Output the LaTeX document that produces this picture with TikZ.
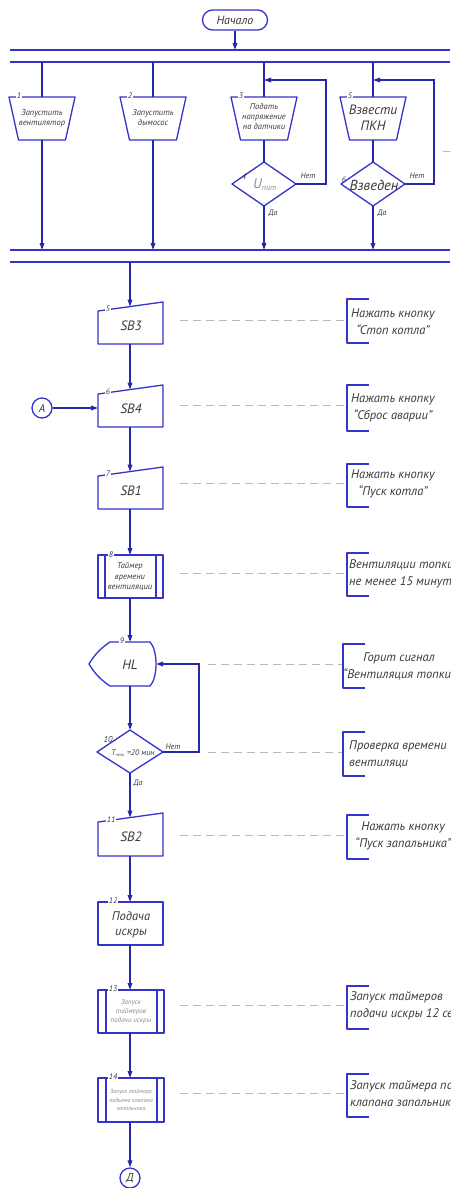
\documentclass[tikz,border=0pt]{standalone}
\usepackage{fontspec}
\setmainfont{PT Sans}
\usetikzlibrary{arrows.meta}
\definecolor{shapeblue}{HTML}{3434CC}
\definecolor{flowblue}{HTML}{2828A8}
\definecolor{tipnavy}{HTML}{1A1A78}
\definecolor{inkgray}{HTML}{3A3A3A}
\definecolor{paleink}{HTML}{8C8C8C}
\definecolor{dashgray}{HTML}{B8B8B8}
\tikzset{
  shp/.style={draw=shapeblue, line width=1.3pt, line join=round},
  flow/.style={draw=flowblue, line width=1.3pt},
  arr/.style={flow, -{Triangle[length=7pt,width=4.6pt,fill=tipnavy]}},
  dsh/.style={draw=dashgray, line width=1pt, dash pattern=on 8pt off 5pt},
  lbl/.style={text=inkgray, font=\itshape\fontsize{13.5}{15}\selectfont, align=center, inner sep=0pt},
  tiny/.style={lbl, font=\itshape\fontsize{8.5}{10}\selectfont},
  note/.style={lbl, font=\itshape\fontsize{12.5}{17}\selectfont},
  num/.style={text=inkgray, font=\itshape\fontsize{8}{8}\selectfont, fill=white, inner sep=0.6pt},
  yesno/.style={text=inkgray, font=\itshape\fontsize{8}{8}\selectfont, inner sep=0pt},
  startbox/.style={shp, rounded corners=10pt, minimum width=65pt, minimum height=20pt,
    text=inkgray, font=\itshape\fontsize{12}{13}\selectfont, inner sep=0pt},
  conn/.style={shp, circle, minimum size=20pt, inner sep=0pt, text=inkgray,
    font=\itshape\fontsize{11.5}{12}\selectfont},
}
\begin{document}
\begin{tikzpicture}[x=1pt,y=-1pt]
\clip (0,0) rectangle (450,1188);
\fill[white] (0,0) rectangle (450,1188);

% ---------- start and the upper parallel section ----------
\node[startbox] (start) at (235,20) {Начало};
\coordinate (busin) at (235,50);
\draw[shp] (10,50) -- (455,50);
\draw[shp] (10,62) -- (455,62);
\draw[arr] (start) -- (busin);

\foreach \x/\n in {42/1,153/2,264/3,373/5}{
  \coordinate (fork-\n) at (\x,62);
  \coordinate (pin-\n) at (\x,97);
  \coordinate (pout-\n) at (\x,140);
  \coordinate (join-\n) at (\x,250);
  \draw[shp] (\x-33,97) -- (\x+33,97) -- (\x+23.5,140) -- (\x-23.5,140) -- cycle;
  \node[num] (pnum-\n) at (\x-23,96) {\n};
  \draw[flow] (fork-\n) -- (pin-\n);
}
\node[tiny] (ptext1) at (42,118) {Запустить\\вентилятор};
\node[tiny] (ptext2) at (153,118) {Запустить\\дымосос};
\node[tiny] (ptext3) at (264,117) {Подать\\напряжение\\на датчики};
\node[lbl, font=\itshape\fontsize{13.5}{16}\selectfont] (ptext5) at (373,118) {Взвести\\ПКН};

\draw[arr] (pout-1) -- (join-1);
\draw[arr] (pout-2) -- (join-2);

% checks 4 and 6 with their retry loops
\foreach \x/\n/\k in {264/4/326,373/6/434}{
  \coordinate (dtop-\n) at (\x,162);
  \coordinate (dbot-\n) at (\x,206);
  \coordinate (dright-\n) at (\x+32,184);
  \coordinate (loop-\n) at (\k,80);
  \coordinate (merge-\n) at (\x,80);
  \draw[shp] (dtop-\n) -- (dright-\n) -- (dbot-\n) -- (\x-32,184) -- cycle;
  \draw[arr] (dright-\n) -| (loop-\n) -- (merge-\n);
  \node[yesno] (no-\n) at (\x+44,176) {Нет};
  \node[yesno] (yes-\n) at (\x+9,213) {Да};
}
\draw[flow] (pout-3) -- (dtop-4);
\draw[flow] (pout-5) -- (dtop-6);
\draw[arr] (dbot-4) -- (join-3);
\draw[arr] (dbot-6) -- (join-5);
\node[lbl, text=paleink, font=\itshape\fontsize{14}{16}\selectfont] (uval) at (265,185) {U\textsubscript{\fontsize{8}{8}\selectfont пит}};
\node[num, fill=none] (dnum4) at (244,177) {4};
\node[lbl, font=\itshape\fontsize{14.5}{16}\selectfont] (armed) at (374,185) {Взведен};
\node[num, fill=none] (dnum6) at (344,180) {6};
\draw[dsh] (443,151) -- (455,151);

\draw[shp] (10,250) -- (455,250);
\draw[shp] (10,262) -- (455,262);
\coordinate (busout) at (130,262);

% ---------- manual inputs SB3, SB4, SB1 ----------
\foreach \t/\n/\name in {302/5/SB3,385/6/SB4,467/7/SB1}{
  \draw[shp] (98,\t+9) -- (163,\t) -- (163,\t+42) -- (98,\t+42) -- cycle;
  \coordinate (\name-in) at (130,\t+4.6);
  \coordinate (\name-out) at (130,\t+42);
  \node[lbl] (\name) at (131,\t+24) {\name};
  \node[num] (\name-num) at (108,\t+6.5) {\n};
}

% predefined process 8
\draw[shp] (98,555) rectangle (163,598);
\draw[shp] (105,555) -- (105,598) (156,555) -- (156,598);
\coordinate (timer-in) at (130,555);
\coordinate (timer-out) at (130,598);
\node[lbl, font=\itshape\fontsize{8.5}{10.5}\selectfont] (timer) at (130,577) {Таймер\\времени\\вентиляции};
\node[num] (timer-num) at (111,555) {8};

% display HL
\draw[shp] (110,642) -- (150,642) .. controls (158,650) and (158,678) .. (150,686)
  -- (110,686) to[bend left=12] (89,664) to[bend left=12] cycle;
\coordinate (hl-in) at (130,642);
\coordinate (hl-out) at (130,686);
\coordinate (hl-right) at (156,664);
\node[lbl] (hl) at (130,665) {HL};
\node[num] (hl-num) at (122,641) {9};

% decision 10
\coordinate (d10-top) at (130,730);
\coordinate (d10-bot) at (130,773);
\coordinate (d10-right) at (163,752);
\coordinate (d10-loop) at (199,664);
\draw[shp] (d10-top) -- (d10-right) -- (d10-bot) -- (97,752) -- cycle;
\node[lbl, font=\itshape\fontsize{8}{9}\selectfont] (d10) at (133,753) {T\textsubscript{\fontsize{4.5}{5}\selectfont печи} =20 мин};
\node[num, fill=none, font=\itshape\fontsize{8.5}{9}\selectfont] (d10-num) at (108,740) {10};
\node[yesno] (no-10) at (173,747) {Нет};
\node[yesno] (yes-10) at (138,783) {Да};
\draw[arr] (d10-right) -| (d10-loop) -- (hl-right);

% manual input SB2
\draw[shp] (98,822) -- (163,813) -- (163,856) -- (98,856) -- cycle;
\coordinate (SB2-in) at (130,817.6);
\coordinate (SB2-out) at (130,856);
\node[lbl] (SB2) at (131,837) {SB2};
\node[num] (SB2-num) at (111,819.5) {11};

% process 12
\draw[shp] (98,902) rectangle (163,945);
\coordinate (spark-in) at (130,902);
\coordinate (spark-out) at (130,945);
\node[lbl, font=\itshape\fontsize{12.5}{15}\selectfont] (spark) at (131,925) {Подача\\искры};
\node[num] (spark-num) at (113,901) {12};

% predefined processes 13 and 14
\draw[shp] (98,990) rectangle (164,1033);
\draw[shp] (106,990) -- (106,1033) (157,990) -- (157,1033);
\coordinate (st-in) at (130,990);
\coordinate (st-out) at (130,1033);
\node[lbl, text=paleink, font=\itshape\fontsize{7}{9}\selectfont] (st) at (131,1012) {Запуск\\таймеров\\подачи искры};
\node[num] (st-num) at (113,989) {13};

\draw[shp] (98,1078) rectangle (164,1122);
\draw[shp] (106,1078) -- (106,1122) (157,1078) -- (157,1122);
\coordinate (vt-in) at (130,1078);
\coordinate (vt-out) at (130,1122);
\node[lbl, text=paleink, font=\itshape\fontsize{6}{8.5}\selectfont] (vt) at (131,1100) {Запуск таймера\\подъема клапана\\запальника};
\node[num] (vt-num) at (113,1077) {14};

% off-page connectors
\node[conn] (cA) at (42,408) {А};
\node[conn] (cD) at (130,1178) {Д};
\coordinate (SB4-side) at (98,408);

% main flow
\draw[arr] (busout) -- (SB3-in);
\draw[arr] (SB3-out) -- (SB4-in);
\draw[arr] (cA) -- (SB4-side);
\draw[arr] (SB4-out) -- (SB1-in);
\draw[arr] (SB1-out) -- (timer-in);
\draw[arr] (timer-out) -- (hl-in);
\draw[arr] (hl-out) -- (d10-top);
\draw[arr] (d10-bot) -- (SB2-in);
\draw[arr] (SB2-out) -- (spark-in);
\draw[arr] (spark-out) -- (st-in);
\draw[arr] (st-out) -- (vt-in);
\draw[arr] (vt-out) -- (cD);

% ---------- comments ----------
\foreach \y/\xa/\xb/\hu/\hd in {320/180/347/21/23, 405/180/347/20/26, 483/180/347/19/24,
    573/180/347/20/23, 664/208/343/20/24, 752/208/343/20/24, 835/180/347/20/24,
    1005/180/347/19/24, 1093/180/347/19/24}{
  \draw[dsh] (\xa,\y) -- (\xb,\y);
  \draw[shp] (\xb+22,\y-\hu) -- (\xb,\y-\hu) -- (\xb,\y+\hd) -- (\xb+22,\y+\hd);
}
\node[note, anchor=west] (c1) at (351,322) {Нажать кнопку\\“Стоп котла”};
\node[note, anchor=west] (c2) at (351,408) {Нажать кнопку\\“Сброс аварии”};
\node[note, anchor=west] (c3) at (351,484) {Нажать кнопку\\“Пуск котла”};
\node[note, anchor=west, align=left] (c4) at (349,574) {Вентиляции топки\\не менее 15 минут};
\node[note, anchor=west] (c5) at (343,666) {Горит сигнал\\“Вентиляция топки”};
\node[note, anchor=west, align=left] (c6) at (349,754) {Проверка времени\\вентиляци};
\node[note, anchor=west] (c7) at (355,836) {Нажать кнопку\\“Пуск запальника”};
\node[note, anchor=west, align=left] (c8) at (350,1006) {Запуск таймеров\\подачи искры 12 сек};
\node[note, anchor=west, align=left] (c9) at (350,1094) {Запуск таймера подъема\\клапана запальника};
\end{tikzpicture}
\end{document}
